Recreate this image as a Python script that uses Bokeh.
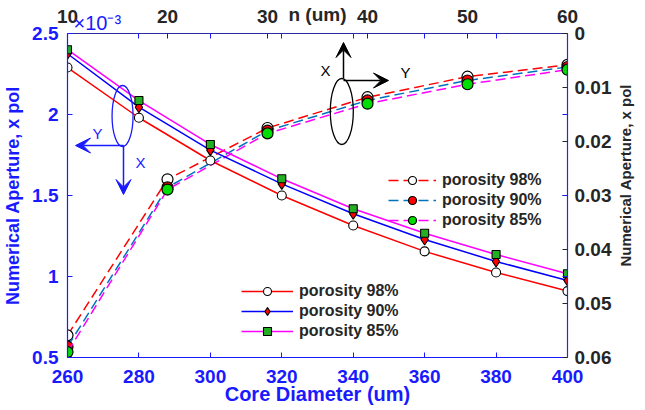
import math
from bokeh.plotting import figure
from bokeh.models import (Range1d, LinearAxis, FixedTicker, CustomJSTickFormatter,
                          Legend, LegendItem, Label, Arrow, VeeHead)
from bokeh.embed import file_html
from bokeh.resources import INLINE

# ---------------- data ----------------
core_diameter = [260, 280, 300, 320, 340, 360, 380, 400]
na_core_98 = [2.29, 1.98, 1.716, 1.50, 1.315, 1.155, 1.025, 0.91]
na_core_90 = [2.375, 2.045, 1.78, 1.572, 1.387, 1.228, 1.093, 0.975]
na_core_85 = [2.40, 2.086, 1.815, 1.603, 1.418, 1.267, 1.136, 1.017]

n_um = [10, 20, 30, 40, 50, 60]
na_n_98 = [0.0559, 0.0270, 0.0175, 0.0118, 0.0080, 0.0058]
na_n_90 = [0.0580, 0.0285, 0.0180, 0.0124, 0.0087, 0.0062]
na_n_85 = [0.0590, 0.0289, 0.0185, 0.0130, 0.0094, 0.0067]

series_labels = ["porosity 98%", "porosity 90%", "porosity 85%"]

core_ticks = [260, 280, 300, 320, 340, 360, 380, 400]
left_ticks = [0.5, 1, 1.5, 2, 2.5]
n_ticks = [10, 20, 30, 40, 50, 60]
right_ticks = [0, 0.01, 0.02, 0.03, 0.04, 0.05, 0.06]

# ---------------- style ----------------
FONT = "Liberation Sans"
BLUE = "#1a1aff"
DARK = "#262626"
solid_colors = ["#ff0000", "#0000ff", "#ff00ff"]
dash_colors = ["#ff0000", "#0072bd", "#ff00ff"]

X0, X1 = 260, 400
Y0, Y1 = 0.5, 2.5
N0, N1 = 10, 60
R0, R1 = 0.06, 0.0
FRAME_TOP, FRAME_W, FRAME_H = 33, 504, 324

p = figure(width=645, height=410,
           x_range=Range1d(X0, X1), y_range=Range1d(Y0, Y1),
           output_backend="svg", toolbar_location=None,
           min_border_left=64, min_border_right=77,
           min_border_top=FRAME_TOP, min_border_bottom=53)
p.extra_x_ranges = {"n": Range1d(N0, N1)}
p.extra_y_ranges = {"r": Range1d(R0, R1)}
p.grid.visible = False
p.outline_line_color = None
p.background_fill_color = "white"
p.border_fill_color = "white"

fmt = CustomJSTickFormatter(code="return String(tick);")

def style_axis(ax, color, line_color, standoff):
    ax.axis_line_color = line_color
    ax.axis_line_width = 1.2
    ax.major_tick_line_color = color
    ax.major_tick_in = 5
    ax.major_tick_out = 0
    ax.minor_tick_line_color = None
    ax.major_label_text_font = FONT
    ax.major_label_text_font_style = "bold"
    ax.major_label_text_font_size = "19px"
    ax.major_label_text_color = color
    ax.major_label_standoff = standoff
    ax.formatter = fmt
    ax.axis_label_text_font = FONT
    ax.axis_label_text_font_style = "bold"

xa = p.xaxis[0]
xa.ticker = FixedTicker(ticks=core_ticks)
style_axis(xa, BLUE, BLUE, 12)
xa.axis_label = "Core Diameter (um)"
xa.axis_label_text_font_size = "20px"
xa.axis_label_text_color = BLUE
xa.axis_label_standoff = -3

ya = p.yaxis[0]
ya.ticker = FixedTicker(ticks=left_ticks)
style_axis(ya, BLUE, BLUE, 9)
ya.axis_label = "Numerical Aperture, x pol"
ya.axis_label_text_font_size = "18px"
ya.axis_label_text_color = BLUE
ya.axis_label_standoff = 6

# mirrored tick positions (box ticks of the primary axes)
mirror_top = [N0 + (c - X0) * (N1 - N0) / (X1 - X0) for c in core_ticks[1:-1]]
mirror_right = [R0 + (v - Y0) * (R1 - R0) / (Y1 - Y0) for v in left_ticks[1:-1]]

top = LinearAxis(x_range_name="n", ticker=FixedTicker(ticks=n_ticks, minor_ticks=mirror_top))
style_axis(top, DARK, "#2a2aa8", 11)
top.minor_tick_line_color = BLUE
top.minor_tick_in = 5
top.minor_tick_out = 0
top.axis_label = "n (um)"
top.axis_label_text_font_size = "19px"
top.axis_label_text_color = DARK
top.axis_label_standoff = -18
p.add_layout(top, "above")

right = LinearAxis(y_range_name="r", ticker=FixedTicker(ticks=right_ticks, minor_ticks=mirror_right))
style_axis(right, DARK, "#2a2ad0", 7)
right.minor_tick_line_color = BLUE
right.minor_tick_in = 5
right.minor_tick_out = 0
p.add_layout(right, "right")

# right-hand title, reading bottom-to-top: an outer right axis with one rotated label
right_title = "Numerical Aperture, x pol"
title_start_px = 266  # where the rotated right title starts (page pixels from top)
title_pos = R1 + (title_start_px - FRAME_TOP) / FRAME_H * (R0 - R1)
right2 = LinearAxis(y_range_name="r", ticker=FixedTicker(ticks=[title_pos], minor_ticks=[]),
                    formatter=CustomJSTickFormatter(args=dict(t=right_title), code="return t;"))
right2.axis_line_color = None
right2.major_tick_line_color = None
right2.minor_tick_line_color = None
right2.major_label_orientation = math.pi / 2
right2.major_label_standoff = 5
right2.major_label_text_line_height = 1.0
right2.major_label_text_font = FONT
right2.major_label_text_font_style = "bold"
right2.major_label_text_font_size = "15px"
right2.major_label_text_color = DARK
p.add_layout(right2, "right")

# x10^-3 multiplier of the left axis (figure title slot, pulled down next to the frame)
p.title.text = "\u00d710\u207b\u00b3"
p.title.text_font = FONT
p.title.text_font_size = "20px"
p.title.text_font_style = "normal"
p.title.text_color = BLUE
p.title.align = "left"
p.title.offset = 6
p.title.vertical_align = "bottom"
p.title.standoff = -66

# ---------------- dashed series (n axis / right axis) ----------------
dash_series = [na_n_98, na_n_90, na_n_85]
dash_fill = ["white", "#ff0000", "#00dd00"]
dash_items = []
for vals, col, fc, lab in zip(dash_series, dash_colors, dash_fill, series_labels):
    l = p.line(n_um, vals, x_range_name="n", y_range_name="r",
               line_color=col, line_width=1.5, line_dash="10 5")
    s = p.scatter(n_um, vals, x_range_name="n", y_range_name="r",
                  marker="circle", size=11, fill_color=fc, line_color="black", line_width=1.2)
    dash_items.append(LegendItem(label=lab, renderers=[l, s]))

# ---------------- solid series (core diameter / left axis) ----------------
solid_series = [na_core_98, na_core_90, na_core_85]
solid_markers = ["circle", "diamond", "square"]
solid_fill = ["white", "#ff0000", "#22b022"]
solid_sizes = [9, 11, 8]
solid_items = []
for vals, col, mk, fc, sz, lab in zip(solid_series, solid_colors, solid_markers,
                                       solid_fill, solid_sizes, series_labels):
    l = p.line(core_diameter, vals, line_color=col, line_width=1.5)
    s = p.scatter(core_diameter, vals, marker=mk, size=sz, fill_color=fc,
                  line_color="black", line_width=1.1)
    solid_items.append(LegendItem(label=lab, renderers=[l, s]))

def make_legend(items, loc, gw, standoff):
    return Legend(items=items, location=loc, glyph_width=gw, glyph_height=20,
                  label_height=20, spacing=0, padding=0, margin=0,
                  label_standoff=standoff, label_text_font=FONT,
                  label_text_font_style="bold", label_text_font_size="16px",
                  label_text_color=DARK, border_line_color=None,
                  background_fill_alpha=0)

p.add_layout(make_legend(solid_items, (174, 16), 52, 6))
p.add_layout(make_legend(dash_items, (321, 127), 48, 6))

# ---------------- lens / axis schematic annotations ----------------
def to_data(sx, sy):
    return X0 + sx * (X1 - X0) / FRAME_W, Y0 + sy * (Y1 - Y0) / FRAME_H

bx, by = to_data(55.5, 241.5)
kx, ky = to_data(276.5, 246)
p.ellipse(x=[bx], y=[by], width=21, height=61, width_units="screen",
          height_units="screen", fill_color=None, line_color=BLUE, line_width=1.3)
p.ellipse(x=[kx], y=[ky], width=23, height=66, width_units="screen",
          height_units="screen", fill_color=None, line_color="black", line_width=1.3)

def arrow(x0, y0, x1, y1, color):
    p.add_layout(Arrow(end=VeeHead(size=15, fill_color=color, line_color=color),
                       x_start=x0, y_start=y0, x_end=x1, y_end=y1,
                       start_units="screen", end_units="screen",
                       line_color=color, line_width=1.5))

arrow(56, 212, 8, 212, BLUE)
arrow(56, 212, 56, 163, BLUE)
arrow(276, 279, 276, 315, "black")
arrow(276, 277, 321, 277, "black")

def label(x, y, text, size, color):
    p.add_layout(Label(x=x, y=y, x_units="screen", y_units="screen", text=text,
                       text_font=FONT, text_font_size=size, text_color=color,
                       text_align="center", text_baseline="middle"))

label(30, 224, "Y", "15px", BLUE)
label(73, 195, "X", "15px", BLUE)
label(258, 287, "X", "15px", "black")
label(338, 285, "Y", "15px", "black")

open("out.html", "w").write(file_html(p, INLINE))
